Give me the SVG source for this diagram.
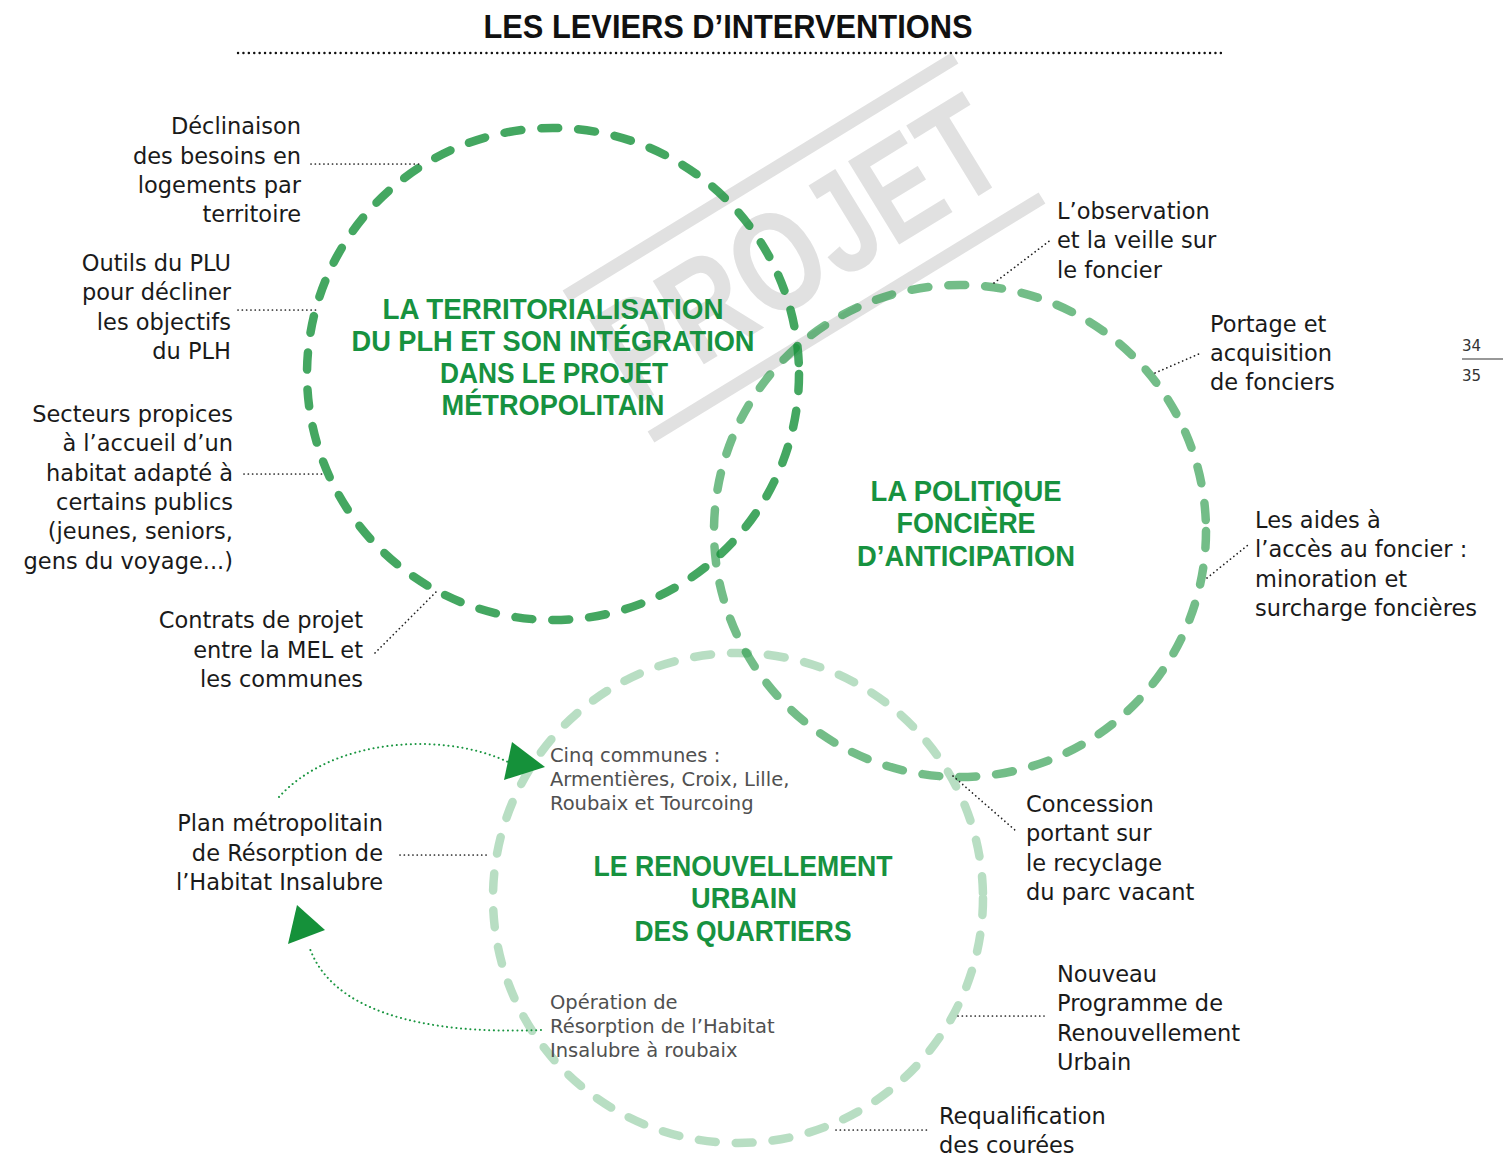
<svg xmlns="http://www.w3.org/2000/svg" width="1503" height="1155" viewBox="0 0 1503 1155">
<defs>
<style>
.lbl{font-family:"DejaVu Sans","Liberation Sans",sans-serif;font-size:22.5px;fill:#1a1a1a}
.sm{font-family:"DejaVu Sans","Liberation Sans",sans-serif;font-size:19.5px;fill:#505050}
.hd{font-family:"Liberation Sans",Arial,sans-serif;font-weight:bold;font-size:29px;fill:#17923f;text-anchor:middle}
.ring{fill:none;stroke:#159139;stroke-width:8.5;stroke-linecap:round;stroke-dasharray:17 20}
.lead{fill:none;stroke:#222;stroke-width:1.7;stroke-linecap:round;stroke-dasharray:0.1 4.2}
.gdot{fill:none;stroke:#1a9641;stroke-width:2;stroke-linecap:round;stroke-dasharray:0.1 4.6}
.arr{fill:#15913a}
.wm{stroke:#e1e1e1;stroke-width:13;fill:none}
</style>
</defs>
<rect width="1503" height="1155" fill="#ffffff"/>

<!-- watermark -->
<g id="watermark">
<line class="wm" x1="566" y1="296" x2="955" y2="58"/>
<line class="wm" x1="651" y1="437" x2="1042" y2="198"/>
<text transform="translate(634,407) rotate(-31.5)" font-family="Liberation Sans, Arial, sans-serif" font-weight="bold" font-size="142" fill="#e1e1e1" textLength="446" lengthAdjust="spacingAndGlyphs">PROJET</text>
</g>

<!-- title -->
<g id="title">
<text x="728" y="38" font-family="Liberation Sans, Arial, sans-serif" font-weight="bold" font-size="34" fill="#111" text-anchor="middle" textLength="489" lengthAdjust="spacingAndGlyphs">LES LEVIERS D’INTERVENTIONS</text>
<line x1="238" y1="53" x2="1222" y2="53" stroke="#111" stroke-width="2.4" stroke-linecap="round" stroke-dasharray="0.1 5.3"/>
</g>

<!-- page numbers -->
<g id="page">
<text x="1462" y="351" font-family="DejaVu Sans, sans-serif" font-size="15" fill="#333">34</text>
<line x1="1462" y1="359" x2="1503" y2="359" stroke="#333" stroke-width="1.2"/>
<text x="1462" y="381" font-family="DejaVu Sans, sans-serif" font-size="15" fill="#333">35</text>
</g>

<!-- circles -->
<g id="circle-territorialisation">
<circle class="ring" cx="553" cy="374" r="246" opacity="0.8"/>
<text class="hd" x="553" y="319" textLength="341" lengthAdjust="spacingAndGlyphs">LA  TERRITORIALISATION</text>
<text class="hd" x="553" y="351" textLength="403" lengthAdjust="spacingAndGlyphs">DU PLH ET SON INTÉGRATION</text>
<text class="hd" x="554" y="383" textLength="228" lengthAdjust="spacingAndGlyphs">DANS LE PROJET</text>
<text class="hd" x="553" y="415" textLength="223" lengthAdjust="spacingAndGlyphs">MÉTROPOLITAIN</text>
</g>

<g id="circle-fonciere">
<circle class="ring" cx="960" cy="531" r="246" opacity="0.6"/>
<text class="hd" x="966" y="501" textLength="191" lengthAdjust="spacingAndGlyphs">LA POLITIQUE</text>
<text class="hd" x="966" y="533" textLength="139" lengthAdjust="spacingAndGlyphs">FONCIÈRE</text>
<text class="hd" x="966" y="566" textLength="218" lengthAdjust="spacingAndGlyphs">D’ANTICIPATION</text>
</g>

<g id="circle-renouvellement">
<circle class="ring" cx="738" cy="898" r="245" opacity="0.3"/>
<text class="hd" x="743" y="876" textLength="299" lengthAdjust="spacingAndGlyphs">LE RENOUVELLEMENT</text>
<text class="hd" x="744" y="908" textLength="106" lengthAdjust="spacingAndGlyphs">URBAIN</text>
<text class="hd" x="743" y="941" textLength="217" lengthAdjust="spacingAndGlyphs">DES QUARTIERS</text>
<text class="sm" x="550" y="762">Cinq communes :</text>
<text class="sm" x="550" y="786">Armentières, Croix, Lille,</text>
<text class="sm" x="550" y="810">Roubaix et Tourcoing</text>
<text class="sm" x="550" y="1009">Opération de</text>
<text class="sm" x="550" y="1033">Résorption de l’Habitat</text>
<text class="sm" x="550" y="1057">Insalubre à roubaix</text>
</g>

<!-- labels -->
<g id="label-declinaison" class="lbl" text-anchor="end">
<text x="301" y="134">Déclinaison</text>
<text x="301" y="164">des besoins en</text>
<text x="301" y="193">logements par</text>
<text x="301" y="222">territoire</text>
</g>
<g id="label-outils" class="lbl" text-anchor="end">
<text x="231" y="271">Outils du PLU</text>
<text x="231" y="300">pour décliner</text>
<text x="231" y="330">les objectifs</text>
<text x="231" y="359">du PLH</text>
</g>
<g id="label-secteurs" class="lbl" text-anchor="end">
<text x="233" y="422">Secteurs propices</text>
<text x="233" y="451">à l’accueil d’un</text>
<text x="233" y="481">habitat adapté à</text>
<text x="233" y="510">certains publics</text>
<text x="233" y="539">(jeunes, seniors,</text>
<text x="233" y="569">gens du voyage...)</text>
</g>
<g id="label-contrats" class="lbl" text-anchor="end">
<text x="363" y="628">Contrats de projet</text>
<text x="363" y="658">entre la MEL et</text>
<text x="363" y="687">les communes</text>
</g>
<g id="label-plan" class="lbl" text-anchor="end">
<text x="383" y="831">Plan métropolitain</text>
<text x="383" y="861">de Résorption de</text>
<text x="383" y="890">l’Habitat Insalubre</text>
</g>
<g id="label-observation" class="lbl">
<text x="1057" y="219">L’observation</text>
<text x="1057" y="248">et la veille sur</text>
<text x="1057" y="278">le foncier</text>
</g>
<g id="label-portage" class="lbl">
<text x="1210" y="332">Portage et</text>
<text x="1210" y="361">acquisition</text>
<text x="1210" y="390">de fonciers</text>
</g>
<g id="label-aides" class="lbl">
<text x="1255" y="528">Les aides à</text>
<text x="1255" y="557">l’accès au foncier :</text>
<text x="1255" y="587">minoration et</text>
<text x="1255" y="616">surcharge foncières</text>
</g>
<g id="label-concession" class="lbl">
<text x="1026" y="812">Concession</text>
<text x="1026" y="841">portant sur</text>
<text x="1026" y="871">le recyclage</text>
<text x="1026" y="900">du parc vacant</text>
</g>
<g id="label-npru" class="lbl">
<text x="1057" y="982">Nouveau</text>
<text x="1057" y="1011">Programme de</text>
<text x="1057" y="1041">Renouvellement</text>
<text x="1057" y="1070">Urbain</text>
</g>
<g id="label-courees" class="lbl">
<text x="939" y="1124">Requalification</text>
<text x="939" y="1153">des courées</text>
</g>

<!-- connectors -->
<g id="connectors">
<line class="lead" x1="311" y1="164" x2="421" y2="164"/>
<line class="lead" x1="238" y1="310" x2="316" y2="310"/>
<line class="lead" x1="244" y1="474" x2="323" y2="474"/>
<line class="lead" x1="375" y1="653" x2="436" y2="592"/>
<line class="lead" x1="994" y1="283" x2="1052" y2="239"/>
<line class="lead" x1="1155" y1="373" x2="1201" y2="353"/>
<line class="lead" x1="1207" y1="578" x2="1248" y2="545"/>
<line class="lead" x1="953" y1="776" x2="1016" y2="831"/>
<line class="lead" x1="958" y1="1016" x2="1044" y2="1016"/>
<line class="lead" x1="836" y1="1130" x2="927" y2="1130"/>
<line class="lead" x1="400" y1="855" x2="490" y2="855"/>
<path class="gdot" d="M279,797 C330,740 440,730 508,762"/>
<polygon class="arr" points="512,742 545,767 504,780"/>
<path class="gdot" d="M541,1030 C420,1035 330,1010 309,946"/>
<polygon class="arr" points="297,905 325,930 288,944"/>
</g>
</svg>
